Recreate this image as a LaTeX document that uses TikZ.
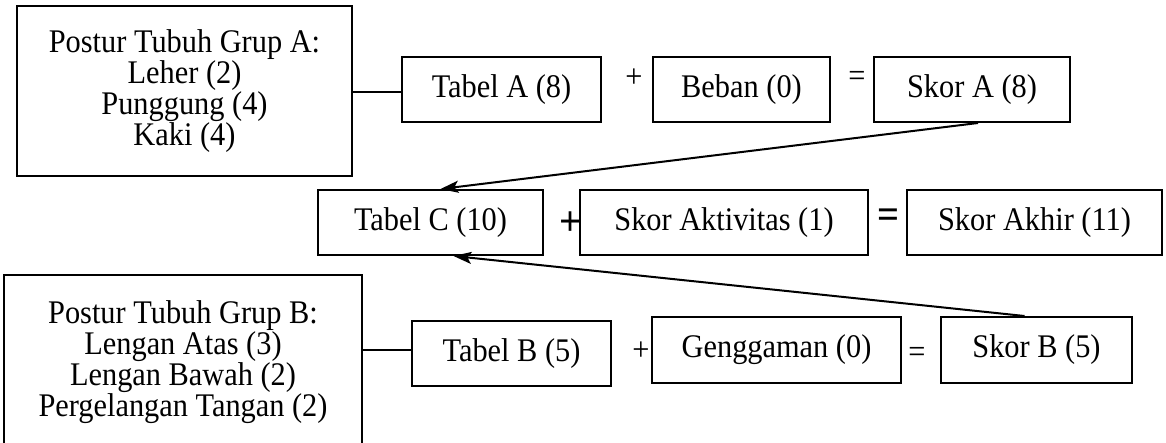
\documentclass[tikz,border=0pt]{standalone}
\usepackage{fontspec}
\setmainfont{Liberation Serif}[FakeStretch=0.92]
\usetikzlibrary{arrows.meta, positioning, calc}
\tikzset{
  skorbox/.style={
    rectangle, draw, line width=2pt, inner sep=0pt, align=center,
    minimum height=65pt, font=\fontsize{33}{31}\selectfont
  },
  grupbox/.style={
    skorbox, minimum height=170pt
  },
  opsign/.style={
    inner sep=0pt, font=\fontsize{33}{33}\selectfont
  },
  boldsign/.style={
    inner sep=0pt, font=\fontsize{42}{42}\selectfont\bfseries
  },
  linkline/.style={
    line width=2pt
  },
  skorarrow/.style={
    line width=2pt, -{Stealth[length=18pt, width=12pt, inset=4pt]}
  }
}

\begin{document}
\begin{tikzpicture}[x=1pt, y=-1pt]
  \useasboundingbox (0,0) rectangle (1166,443);
  \clip (0,0) rectangle (1166,443);

  % baris atas (grup A)
  \node[grupbox, minimum width=335pt] (grupA) at (184.5,91) {Postur Tubuh Grup A:\\ Leher (2)\\ Punggung (4)\\ Kaki (4)};
  \node[skorbox, minimum width=199pt] (tabelA) at (501.5,89.5) {Tabel A (8)};
  \node[opsign] (plusA) at (634,78) {+};
  \node[skorbox, minimum width=177pt] (beban) at (741.5,89.5) {Beban (0)};
  \node[opsign] (samaA) at (857,79) {=};
  \node[skorbox, minimum width=196pt] (skorA) at (972,89.5) {Skor A (8)};

  % baris tengah (tabel C)
  \node[skorbox, minimum width=225pt] (tabelC) at (430.5,222.5) {Tabel C (10)};
  \node[boldsign] (plusC) at (570,224) {+};
  \node[skorbox, minimum width=288pt] (skorAkt) at (724,222.5) {Skor Aktivitas (1)};
  \node[boldsign] (samaC) at (888,219) {=};
  \node[skorbox, minimum width=255pt] (skorAkhir) at (1034.5,222.5) {Skor Akhir (11)};

  % baris bawah (grup B)
  \node[grupbox, minimum width=358pt, minimum height=174pt] (grupB) at (183,362) {Postur Tubuh Grup B:\\ Lengan Atas (3)\\ Lengan Bawah (2)\\ Pergelangan Tangan (2)};
  \node[skorbox, minimum width=199pt] (tabelB) at (511.5,353.5) {Tabel B (5)};
  \node[opsign] (plusB) at (641,351) {+};
  \node[skorbox, minimum width=249pt, minimum height=66pt] (genggaman) at (776.5,350) {Genggaman (0)};
  \node[opsign] (samaB) at (917,355) {=};
  \node[skorbox, minimum width=191pt, minimum height=66pt] (skorB) at (1036.5,350) {Skor B (5)};

  \draw[linkline] (grupA.east |- 0,92) -- (tabelA.west |- 0,92);
  \draw[linkline] (grupB.east |- 0,350) -- (tabelB.west |- 0,350);
  \draw[skorarrow] ([xshift=6pt]skorA.south) -- ([xshift=10pt]tabelC.north);
  \draw[skorarrow] ([xshift=-12pt]skorB.north) -- ([xshift=23pt]tabelC.south);
\end{tikzpicture}
\end{document}
